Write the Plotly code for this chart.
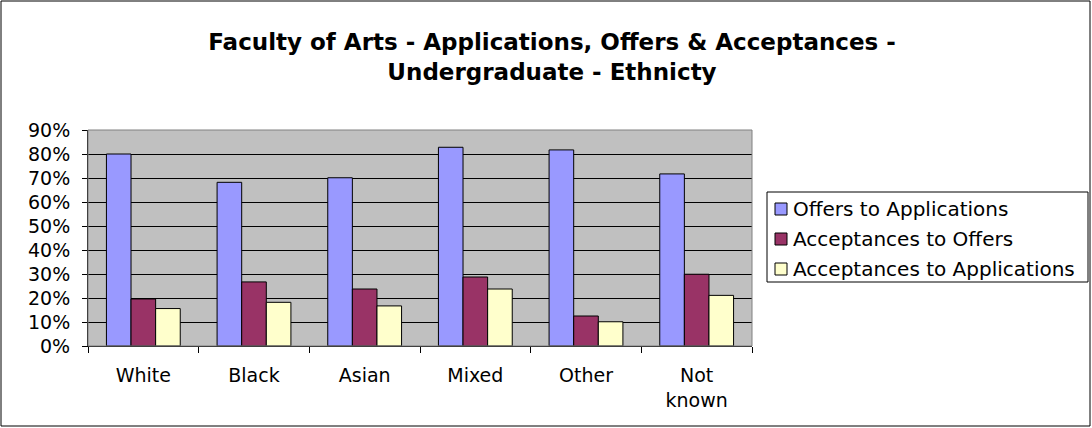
import plotly.graph_objects as go

categories = ["White", "Black", "Asian", "Mixed", "Other", "Not<br>known"]
offers_to_applications = [0.80, 0.682, 0.701, 0.828, 0.817, 0.717]
acceptances_to_offers = [0.196, 0.267, 0.2375, 0.2875, 0.125, 0.299]
acceptances_to_applications = [0.156, 0.182, 0.167, 0.2375, 0.101, 0.211]
series_names = ["Offers to Applications", "Acceptances to Offers", "Acceptances to Applications"]
colors = ["#9999FF", "#993366", "#FFFFCC"]

W, H = 1092, 428
L, R, T, B = 88, 752, 130, 346

fig = go.Figure()
for name, vals, col in zip(series_names,
                           [offers_to_applications, acceptances_to_offers, acceptances_to_applications],
                           colors):
    fig.add_trace(go.Bar(x=categories, y=vals, name=name, showlegend=False,
                         marker=dict(color=col, line=dict(color="black", width=1))))

font_family = "Verdana, DejaVu Sans, sans-serif"

def px_x(x):
    return (x - L) / (R - L)

def px_y(y):
    return (B - y) / (B - T)

shapes = [
    dict(type="rect", xref="paper", yref="paper",
         x0=px_x(1), x1=px_x(1090), y0=px_y(426), y1=px_y(1),
         line=dict(color="black", width=1), fillcolor="rgba(0,0,0,0)", layer="below"),
    dict(type="rect", xref="paper", yref="paper",
         x0=0, x1=1, y0=0, y1=1,
         line=dict(color="#808080", width=1), fillcolor="rgba(0,0,0,0)", layer="above"),
    # legend box
    dict(type="rect", xref="paper", yref="paper",
         x0=px_x(767), x1=px_x(1088), y0=px_y(282), y1=px_y(192),
         line=dict(color="black", width=1), fillcolor="white", layer="above"),
]
annotations = []
row_y = [209, 239, 269]
for name, col, ry in zip(series_names, colors, row_y):
    shapes.append(dict(type="rect", xref="paper", yref="paper",
                       x0=px_x(775), x1=px_x(787), y0=px_y(ry + 6), y1=px_y(ry - 6),
                       line=dict(color="black", width=1), fillcolor=col, layer="above"))
    annotations.append(dict(text=name, xref="paper", yref="paper", x=px_x(791), y=px_y(ry),
                            xanchor="left", yanchor="middle", showarrow=False,
                            font=dict(size=20, family=font_family, color="black")))

fig.update_layout(
    width=W, height=H,
    margin=dict(l=L, r=W - R, t=T, b=H - B, pad=0),
    paper_bgcolor="white",
    plot_bgcolor="#C0C0C0",
    barmode="group",
    bargap=0.333,
    bargroupgap=0,
    font=dict(family=font_family, color="black", size=19),
    title=dict(text="<b>Faculty of Arts - Applications, Offers & Acceptances -<br>Undergraduate - Ethnicty</b>",
               x=552 / W, xanchor="center", y=1 - 50 / H, yanchor="top",
               font=dict(family=font_family, size=23, color="black")),
    xaxis=dict(showgrid=False, ticks="outside", tickson="boundaries", ticklen=6,
               tickcolor="black", showline=True, linecolor="black", linewidth=1,
               tickfont=dict(size=19), ticklabelstandoff=12, fixedrange=True),
    yaxis=dict(range=[0, 0.9], dtick=0.1, tickformat=".0%", showgrid=True,
               gridcolor="black", gridwidth=1, ticks="outside", ticklen=5,
               tickcolor="black", showline=True, linecolor="black", linewidth=1,
               zeroline=False, tickfont=dict(size=19), ticklabelstandoff=8, fixedrange=True),
    showlegend=False,
    shapes=shapes,
    annotations=annotations,
)

fig.write_html("out.html")
